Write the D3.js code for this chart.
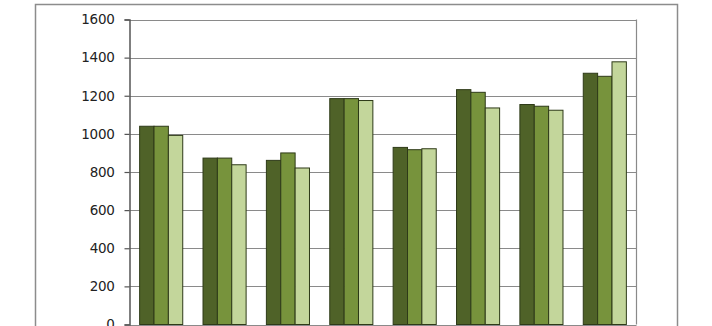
<!DOCTYPE html>
<html>
<head>
<meta charset="utf-8">
<script src="https://cdn.jsdelivr.net/npm/d3@7"></script>
<style>
  html, body { margin: 0; padding: 0; background: #fff; }
  svg { display: block; }
</style>
</head>
<body>
<div id="chart"></div>
<script>
const categories = ["1", "2", "3", "4", "5", "6", "7", "8"];
const seriesNames = ["Series 1", "Series 2", "Series 3"];
const series1 = [1040, 873, 861, 1185, 929, 1232, 1154, 1318];
const series2 = [1040, 873, 900, 1185, 917, 1218, 1145, 1302];
const series3 = [992, 838, 821, 1175, 922, 1136, 1124, 1378];
const yTicks = [0, 200, 400, 600, 800, 1000, 1200, 1400, 1600];
const colors = ["#4f6228", "#77933c", "#c3d69b"];

const W = 712, H = 326;
const svg = d3.select("#chart").append("svg").attr("width", W).attr("height", H);

// outer chart border
svg.append("rect")
  .attr("x", 35.5).attr("y", 4.5).attr("width", 642).attr("height", 340)
  .attr("fill", "#fff").attr("stroke", "#8c8c8c").attr("stroke-width", 1.5);

const plot = { left: 129.5, right: 636.5, top: 19.5, bottom: 324.5 };

const y = d3.scaleLinear().domain([0, 1600]).range([plot.bottom, plot.top]);
const x0 = d3.scaleBand().domain(categories).range([plot.left, plot.right])
  .paddingInner(0.32).paddingOuter(0.16);
const x1 = d3.scaleBand().domain(seriesNames).range([0, x0.bandwidth()]).padding(0);

// gridlines
svg.append("g").selectAll("line").data(yTicks).join("line")
  .attr("x1", plot.left).attr("x2", plot.right)
  .attr("y1", d => Math.round(y(d)) + 0.5).attr("y2", d => Math.round(y(d)) + 0.5)
  .attr("stroke", "#8a8a8a").attr("stroke-width", 1.2);

// right plot border
svg.append("line")
  .attr("x1", plot.right).attr("x2", plot.right)
  .attr("y1", plot.top).attr("y2", plot.bottom)
  .attr("stroke", "#8a8a8a").attr("stroke-width", 1.2);

// bars
const data = categories.map((c, i) => ({
  cat: c,
  vals: [series1[i], series2[i], series3[i]]
}));
const groups = svg.append("g").selectAll("g").data(data).join("g")
  .attr("transform", d => `translate(${x0(d.cat)},0)`);
groups.selectAll("rect").data(d => d.vals.map((v, j) => ({ v, j })))
  .join("rect")
  .attr("x", d => x1(seriesNames[d.j]))
  .attr("y", d => y(d.v))
  .attr("width", x1.bandwidth())
  .attr("height", d => y(0) - y(d.v))
  .attr("fill", d => colors[d.j])
  .attr("stroke", "#2e3a18").attr("stroke-width", 1);

// y axis
const yAxis = d3.axisLeft(y).tickValues(yTicks).tickSize(5).tickPadding(10).tickFormat(d3.format("d"));
const ga = svg.append("g").attr("transform", `translate(${plot.left},0)`).call(yAxis);
ga.select(".domain").attr("stroke", "#555").attr("stroke-width", 1.5);
ga.selectAll(".tick line").attr("stroke", "#555").attr("stroke-width", 1.2);
ga.selectAll(".tick text")
  .attr("font-family", "DejaVu Sans, sans-serif")
  .attr("font-size", 13.5)
  .attr("fill", "#222")
  .attr("letter-spacing", "-0.3px");
</script>
</body>
</html>
